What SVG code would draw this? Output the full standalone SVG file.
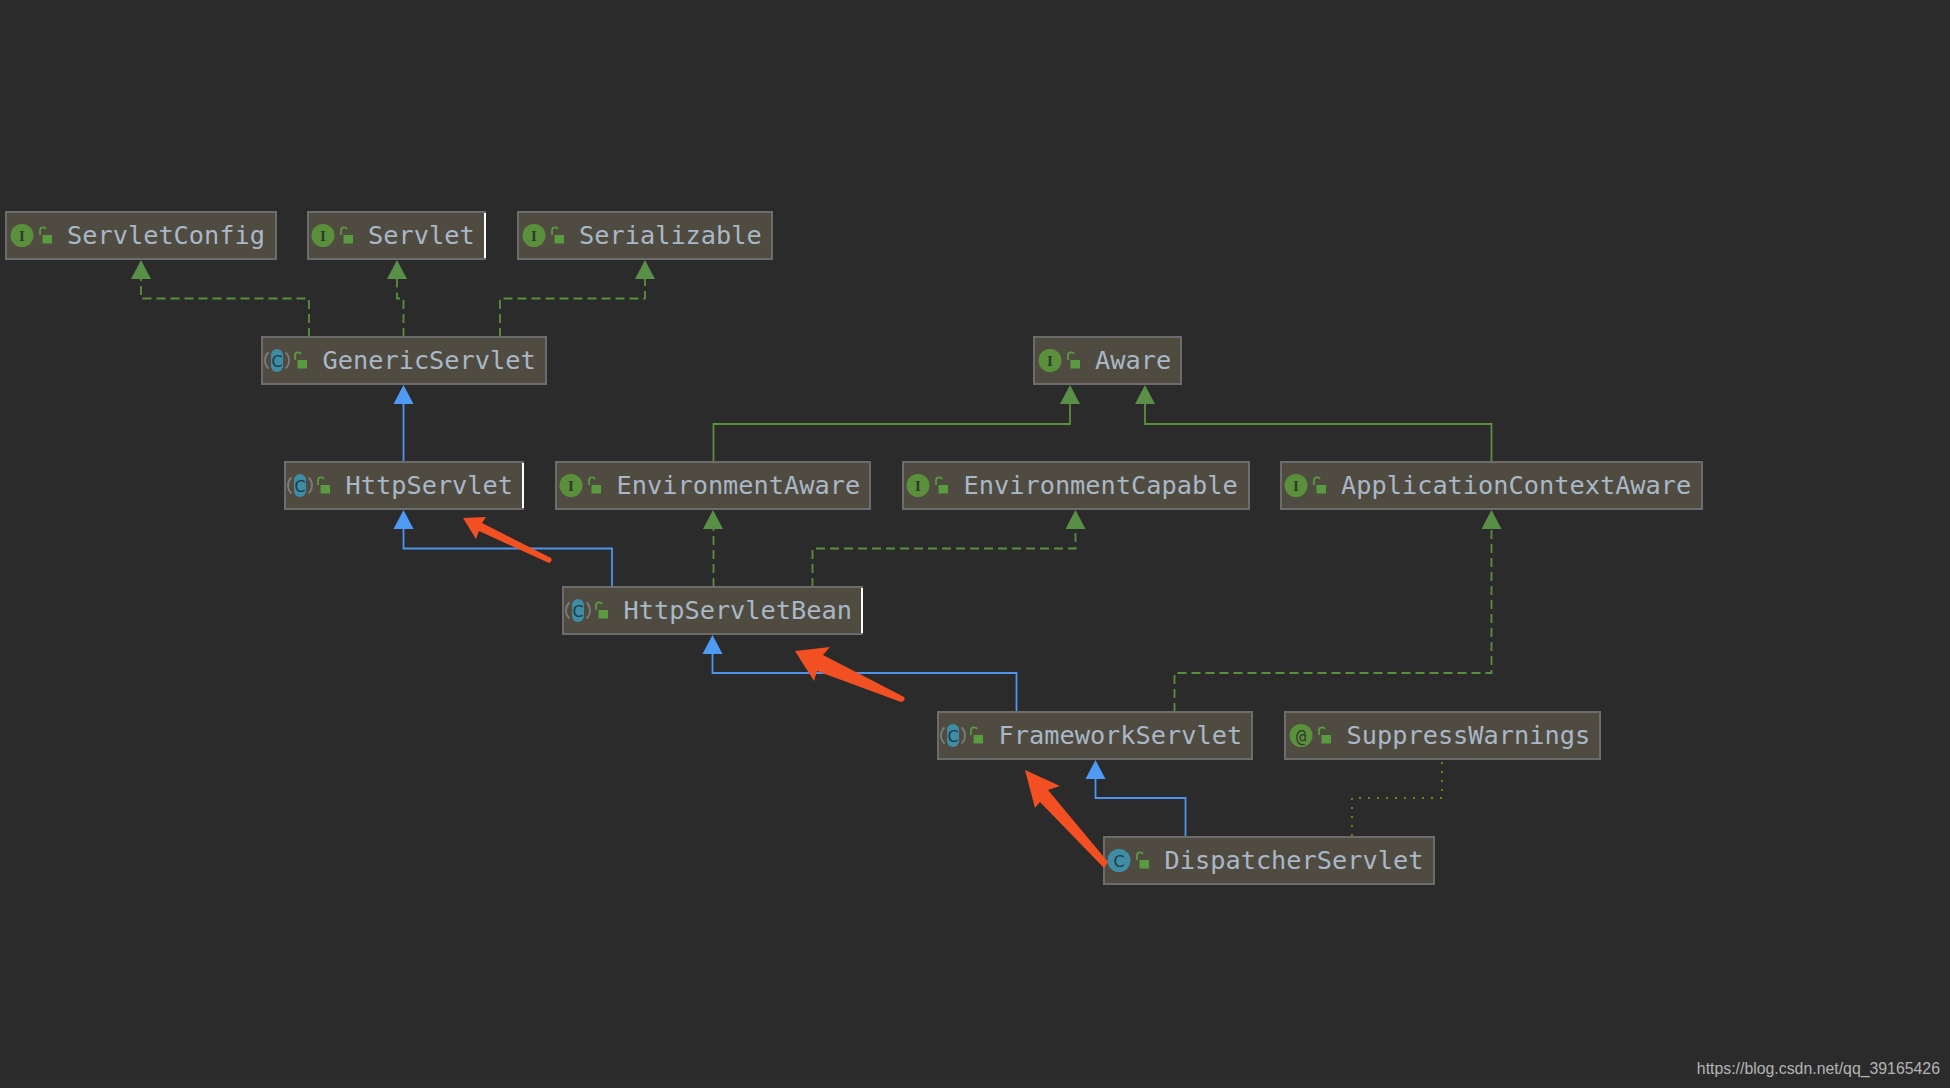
<svg xmlns="http://www.w3.org/2000/svg" width="1950" height="1088" viewBox="0 0 1950 1088">
<style>
.box{fill:#4f4b41;stroke:#6c6c6c;stroke-width:2}
.lbl{font-family:"DejaVu Sans Mono","Liberation Mono",monospace;font-size:25.3px;fill:#a9b7c6}
.ic{font-family:"Liberation Serif",serif;font-size:15px;font-weight:bold;fill:#2f3a2a;text-anchor:middle}
.icm{font-family:"DejaVu Sans Mono",monospace;font-size:17px;fill:#2f3a2a;text-anchor:middle}
.icc{font-family:"DejaVu Sans",sans-serif;font-size:16px;fill:#1f3a48;text-anchor:middle}
.edge{stroke:#ffffff;stroke-width:2}
.c{fill:none;stroke-width:1.8}
.g{stroke:#5a8f3e}
.b{stroke:#4e93ec}
.d{stroke-dasharray:9 5}
.o{stroke:#7f7f12;stroke-dasharray:2 7}
.ag{fill:#5a8f48}
.ab{fill:#4f9af5}
.red{fill:#f25022}
.wm{font-family:"Liberation Sans",Arial,sans-serif;font-size:15.85px;fill:#b4b4b4;text-anchor:end}
</style>
<defs>
<g id="lock"><path d="M-6,-1 v-4.5 a3.2,3.2 0 0 1 6,-1.5" fill="none" stroke="#5a9a40" stroke-width="1.8"/><rect x="-3.500" y="-1" width="9.500" height="8.500" fill="#5a9a40"/></g>
<circle id="ci" r="11.500" fill="#5a8f3c"/>
<g id="ca"><path d="M-8.500,-8 a11,11 0 0 0 0,16 M8.500,-8 a11,11 0 0 1 0,16" fill="none" stroke="#7c7c7c" stroke-width="1.800"/><rect x="-6" y="-11.500" width="12" height="23" rx="6" fill="#3f8ca5"/></g>
<circle id="cc" r="11.500" fill="#3f8ca5"/>
<path id="hg" d="M0,0 L10,19 L-10,19 Z" class="ag"/>
<path id="hb" d="M0,0 L10,19 L-10,19 Z" class="ab"/>
</defs>
<rect width="1950" height="1088" fill="#2b2b2b"/>
<g id="connectors">
<path class="c g d" d="M309,337 V298.500 H141 V278"/>
<path class="c g d" d="M403.500,337 V298.500 H397 V278"/>
<path class="c g d" d="M500,337 V298.500 H645 V278"/>
<path class="c b" d="M403.500,462 V404"/>
<path class="c g" d="M713.500,462 V424 H1070 V404"/>
<path class="c g" d="M1491.500,462 V424 H1145 V404"/>
<path class="c b" d="M612,587 V548.500 H403.500 V529"/>
<path class="c g d" d="M713.500,587 V529"/>
<path class="c g d" d="M812.500,587 V548.500 H1075.500 V529"/>
<path class="c b" d="M1016.500,712 V673 H712.500 V654"/>
<path class="c g d" d="M1174.500,712 V673 H1491.500 V529"/>
<path class="c b" d="M1185.500,837 V798 H1095.500 V779"/>
<path class="c o" d="M1352,836 V798 H1442 V762"/>
<use href="#hg" x="141" y="260"/><use href="#hg" x="397" y="260"/><use href="#hg" x="645" y="260"/>
<use href="#hb" x="403.500" y="385"/><use href="#hg" x="1070" y="385"/><use href="#hg" x="1145" y="385"/>
<use href="#hb" x="403.500" y="510"/><use href="#hg" x="713" y="510"/><use href="#hg" x="1075.500" y="510"/><use href="#hg" x="1491.500" y="510"/>
<use href="#hb" x="712.500" y="635"/><use href="#hb" x="1095.500" y="760"/>
</g>
<g id="ServletConfig" transform="translate(6,212)"><rect class="box" width="270" height="47"/><use href="#ci" x="16" y="23.500"/><text class="ic" x="16" y="28.500">I</text><use href="#lock" x="40" y="24"/><text class="lbl" x="61" y="32">ServletConfig</text></g>
<g id="Servlet" transform="translate(308,212)"><rect class="box" width="177" height="47"/><path class="edge" d="M177,1 V46"/><use href="#ci" x="15" y="23.500"/><text class="ic" x="15" y="28.500">I</text><use href="#lock" x="39" y="24"/><text class="lbl" x="60" y="32">Servlet</text></g>
<g id="Serializable" transform="translate(518,212)"><rect class="box" width="254" height="47"/><use href="#ci" x="16" y="23.500"/><text class="ic" x="16" y="28.500">I</text><use href="#lock" x="40" y="24"/><text class="lbl" x="61" y="32">Serializable</text></g>
<g id="GenericServlet" transform="translate(262,337)"><rect class="box" width="284" height="47"/><use href="#ca" x="15" y="23.500"/><text class="icc" x="15" y="29.500">C</text><use href="#lock" x="39" y="24"/><text class="lbl" x="60.500" y="32">GenericServlet</text></g>
<g id="Aware" transform="translate(1034,337)"><rect class="box" width="147" height="47"/><use href="#ci" x="16" y="23.500"/><text class="ic" x="16" y="28.500">I</text><use href="#lock" x="40" y="24"/><text class="lbl" x="61" y="32">Aware</text></g>
<g id="HttpServlet" transform="translate(285,462)"><rect class="box" width="238" height="47"/><path class="edge" d="M238,1 V46"/><use href="#ca" x="15" y="23.500"/><text class="icc" x="15" y="29.500">C</text><use href="#lock" x="39" y="24"/><text class="lbl" x="60.500" y="32">HttpServlet</text></g>
<g id="EnvironmentAware" transform="translate(556,462)"><rect class="box" width="314" height="47"/><use href="#ci" x="15" y="23.500"/><text class="ic" x="15" y="28.500">I</text><use href="#lock" x="39" y="24"/><text class="lbl" x="60.500" y="32">EnvironmentAware</text></g>
<g id="EnvironmentCapable" transform="translate(903,462)"><rect class="box" width="346" height="47"/><use href="#ci" x="15" y="23.500"/><text class="ic" x="15" y="28.500">I</text><use href="#lock" x="39" y="24"/><text class="lbl" x="60.500" y="32">EnvironmentCapable</text></g>
<g id="ApplicationContextAware" transform="translate(1281,462)"><rect class="box" width="421" height="47"/><use href="#ci" x="15" y="23.500"/><text class="ic" x="15" y="28.500">I</text><use href="#lock" x="39" y="24"/><text class="lbl" x="60" y="32">ApplicationContextAware</text></g>
<g id="HttpServletBean" transform="translate(563,587)"><rect class="box" width="299" height="47"/><path class="edge" d="M299,1 V46"/><use href="#ca" x="15" y="23.500"/><text class="icc" x="15" y="29.500">C</text><use href="#lock" x="39" y="24"/><text class="lbl" x="60.500" y="32">HttpServletBean</text></g>
<g id="FrameworkServlet" transform="translate(938,712)"><rect class="box" width="314" height="47"/><use href="#ca" x="15" y="23.500"/><text class="icc" x="15" y="29.500">C</text><use href="#lock" x="39" y="24"/><text class="lbl" x="60.500" y="32">FrameworkServlet</text></g>
<g id="SuppressWarnings" transform="translate(1285,712)"><rect class="box" width="315" height="47"/><use href="#ci" x="16" y="23.500"/><text class="icm" x="16" y="29.500">@</text><use href="#lock" x="40" y="24"/><text class="lbl" x="61.500" y="32">SuppressWarnings</text></g>
<g id="DispatcherServlet" transform="translate(1104,837)"><rect class="box" width="330" height="47"/><use href="#cc" x="15" y="23.500"/><text class="icc" x="15" y="29.500">C</text><use href="#lock" x="39" y="24"/><text class="lbl" x="60.500" y="32">DispatcherServlet</text></g>
<g id="annotations">
<path class="red" d="M463,518 L486,517 L482,523 L551,558 Q553,561 549,563 L479,531 L476,539 Z"/>
<path class="red" d="M795,651 L830,647 L823,655 L904,697 Q906,701 901,702 L817,671 L814,681 Z"/>
<path class="red" d="M1025,770 L1060,786 L1048,790 L1108,862 L1104,868 L1040,802 L1035,808 Z"/>
</g>
<text class="wm" x="1940" y="1074">https://blog.csdn.net/qq_39165426</text>
</svg>
